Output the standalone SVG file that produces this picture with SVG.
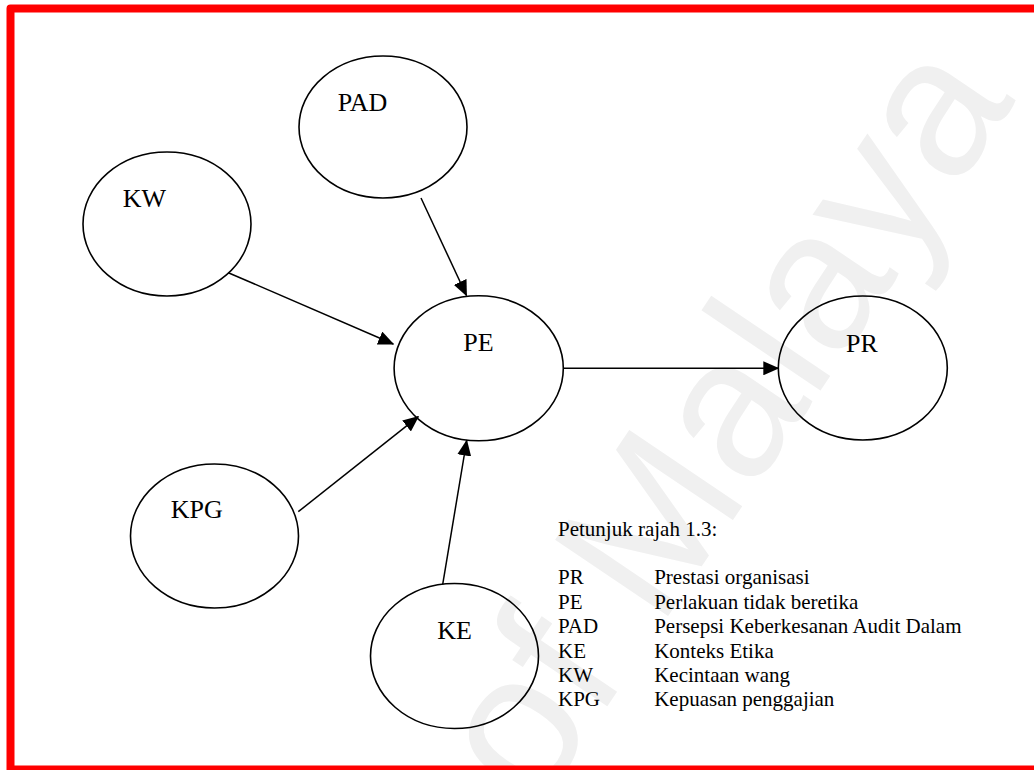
<svg xmlns="http://www.w3.org/2000/svg" width="1034" height="770" viewBox="0 0 1034 770">
  <defs>
    <style>
      .node ellipse { fill: none; stroke: #000; stroke-width: 1.6; }
      .node text { font-family: "Liberation Serif", "Times New Roman", serif; font-size: 26px; fill: #000; }
      .edge { stroke: #000; stroke-width: 1.5; fill: none; marker-end: url(#arrow); }
      .legend text { font-family: "Liberation Serif", "Times New Roman", serif; font-size: 21px; fill: #000; }
      .watermark { font-family: "Liberation Sans", Arial, sans-serif; font-size: 198px; fill: #f0f0f0; }
    </style>
    <marker id="arrow" markerUnits="userSpaceOnUse" markerWidth="17" markerHeight="14" refX="15" refY="7" orient="auto">
      <path d="M0,0 L16,7 L0,14 Z" fill="#000"/>
    </marker>
  </defs>

  <rect x="0" y="0" width="1034" height="770" fill="#fff"/>

  <!-- faint background watermark -->
  <text class="watermark" transform="translate(536 812) rotate(-56)">of Malaya</text>

  <!-- page frame -->
  <rect x="10.5" y="8.5" width="1040" height="761" fill="none" stroke="#ff0000" stroke-width="8" stroke-linejoin="round"/>

  <!-- connectors -->
  <g id="connectors">
    <line class="edge" x1="421" y1="198" x2="466.5" y2="295.5"/>
    <line class="edge" x1="228.3" y1="272.7" x2="393.3" y2="344"/>
    <line class="edge" x1="298.3" y1="511.7" x2="418.3" y2="416.7"/>
    <line class="edge" x1="442.7" y1="584.3" x2="466.7" y2="440.5"/>
    <line class="edge" x1="563.3" y1="368.3" x2="778.3" y2="368.3"/>
  </g>

  <!-- nodes -->
  <g id="node-PAD" class="node">
    <ellipse cx="383" cy="127" rx="84" ry="71"/>
    <text x="337.7" y="111">PAD</text>
  </g>
  <g id="node-KW" class="node">
    <ellipse cx="167" cy="224" rx="84" ry="72"/>
    <text x="122.7" y="207.3">KW</text>
  </g>
  <g id="node-PE" class="node">
    <ellipse cx="478.7" cy="368.3" rx="84.6" ry="72.5"/>
    <text x="463.3" y="351">PE</text>
  </g>
  <g id="node-PR" class="node">
    <ellipse cx="862.8" cy="368" rx="84.5" ry="72"/>
    <text x="846" y="351.7">PR</text>
  </g>
  <g id="node-KPG" class="node">
    <ellipse cx="214.5" cy="536" rx="84" ry="72"/>
    <text x="170.7" y="518.3">KPG</text>
  </g>
  <g id="node-KE" class="node">
    <ellipse cx="454.5" cy="656" rx="84" ry="72.5"/>
    <text x="437.3" y="639.3">KE</text>
  </g>

  <!-- key -->
  <g id="legend" class="legend">
    <text x="558" y="536">Petunjuk rajah 1.3:</text>
    <text x="558" y="584">PR</text><text x="654.2" y="584">Prestasi organisasi</text>
    <text x="558" y="608.5">PE</text><text x="654.2" y="608.5">Perlakuan tidak beretika</text>
    <text x="558" y="633">PAD</text><text x="654.2" y="633">Persepsi Keberkesanan Audit Dalam</text>
    <text x="558" y="657.5">KE</text><text x="654.2" y="657.5">Konteks Etika</text>
    <text x="558" y="682">KW</text><text x="654.2" y="682">Kecintaan wang</text>
    <text x="558" y="706">KPG</text><text x="654.2" y="706">Kepuasan penggajian</text>
  </g>
</svg>
